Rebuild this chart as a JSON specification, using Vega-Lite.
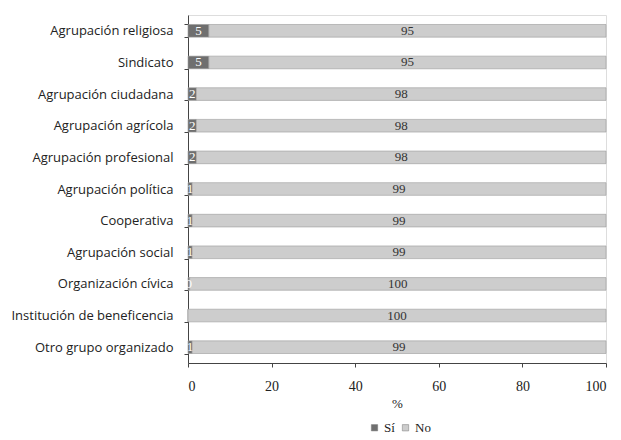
{
  "$schema": "https://vega.github.io/schema/vega-lite/v6.json",
  "autosize": {"type": "none"},
  "padding": {"left": 188, "top": 15, "right": 15, "bottom": 77},
  "width": 418,
  "height": 348,
  "background": "white",
  "data": {"values": [
    {"grupo": "Agrupación religiosa", "tipo": "Sí", "v": 5},
    {"grupo": "Agrupación religiosa", "tipo": "No", "v": 95},
    {"grupo": "Sindicato", "tipo": "Sí", "v": 5},
    {"grupo": "Sindicato", "tipo": "No", "v": 95},
    {"grupo": "Agrupación ciudadana", "tipo": "Sí", "v": 2},
    {"grupo": "Agrupación ciudadana", "tipo": "No", "v": 98},
    {"grupo": "Agrupación agrícola", "tipo": "Sí", "v": 2},
    {"grupo": "Agrupación agrícola", "tipo": "No", "v": 98},
    {"grupo": "Agrupación profesional", "tipo": "Sí", "v": 2},
    {"grupo": "Agrupación profesional", "tipo": "No", "v": 98},
    {"grupo": "Agrupación política", "tipo": "Sí", "v": 1},
    {"grupo": "Agrupación política", "tipo": "No", "v": 99},
    {"grupo": "Cooperativa", "tipo": "Sí", "v": 1},
    {"grupo": "Cooperativa", "tipo": "No", "v": 99},
    {"grupo": "Agrupación social", "tipo": "Sí", "v": 1},
    {"grupo": "Agrupación social", "tipo": "No", "v": 99},
    {"grupo": "Organización cívica", "tipo": "Sí", "v": 0.4},
    {"grupo": "Organización cívica", "tipo": "No", "v": 99.6},
    {"grupo": "Institución de beneficencia", "tipo": "Sí", "v": 0},
    {"grupo": "Institución de beneficencia", "tipo": "No", "v": 100},
    {"grupo": "Otro grupo organizado", "tipo": "Sí", "v": 1},
    {"grupo": "Otro grupo organizado", "tipo": "No", "v": 99}
  ]},
  "encoding": {
    "y": {
      "field": "grupo", "type": "nominal", "sort": null, "title": null,
      "scale": {"paddingInner": 0.6, "paddingOuter": 0.3},
      "axis": {
        "labelFont": "Open Sans", "labelFontSize": 13, "labelColor": "#222",
        "tickBand": "extent", "tickSize": 4, "tickColor": "#444",
        "domainColor": "#444", "labelPadding": 11
      }
    }
  },
  "layer": [
    {
      "mark": {"type": "bar", "stroke": "#9a9a9a", "strokeWidth": 0.6},
      "encoding": {
        "x": {
          "field": "v", "type": "quantitative", "stack": "zero",
          "scale": {"domain": [0, 100], "nice": false},
          "title": "%",
          "axis": {
            "values": [0, 20, 40, 60, 80, 100], "grid": false,
            "labelFont": "Liberation Serif", "labelFontSize": 14, "labelColor": "#222",
            "labelPadding": 12, "tickSize": 4, "tickColor": "#444", "domainColor": "#444",
            "titleFont": "Liberation Serif", "titleFontSize": 13, "titleFontWeight": "normal",
            "titleColor": "#222", "titlePadding": 4
          }
        },
        "color": {
          "field": "tipo", "type": "nominal", "sort": ["Sí", "No"],
          "scale": {"domain": ["Sí", "No"], "range": ["#6f6f6f", "#cdcdcd"]},
          "legend": {
            "title": null, "orient": "none", "direction": "horizontal",
            "legendX": 180, "legendY": 406,
            "symbolType": "square", "symbolSize": 40, "symbolStrokeColor": "#777", "symbolStrokeWidth": 0.5,
            "labelFont": "Liberation Serif", "labelFontSize": 13, "labelColor": "#222",
            "columnPadding": 4, "labelOffset": 3
          }
        },
        "order": {"field": "tipo", "sort": "descending"}
      }
    },
    {
      "transform": [{"filter": "datum.v > 0"}],
      "mark": {"type": "text", "font": "Liberation Serif", "fontSize": 13, "baseline": "middle"},
      "encoding": {
        "x": {
          "field": "v", "type": "quantitative", "stack": "zero", "bandPosition": 0.5,
          "title": "%",
          "axis": {
            "values": [0, 20, 40, 60, 80, 100], "grid": false,
            "labelFont": "Liberation Serif", "labelFontSize": 14, "labelColor": "#222",
            "labelPadding": 12, "tickSize": 4, "tickColor": "#444", "domainColor": "#444",
            "titleFont": "Liberation Serif", "titleFontSize": 13, "titleFontWeight": "normal",
            "titleColor": "#222", "titlePadding": 4
          }
        },
        "text": {"field": "v", "type": "quantitative", "format": ".0f"},
        "detail": {"field": "tipo"},
        "order": {"field": "tipo", "sort": "descending"},
        "color": {"condition": {"test": "datum.tipo === 'Sí'", "value": "white"}, "value": "#333"}
      }
    }
  ]
}
